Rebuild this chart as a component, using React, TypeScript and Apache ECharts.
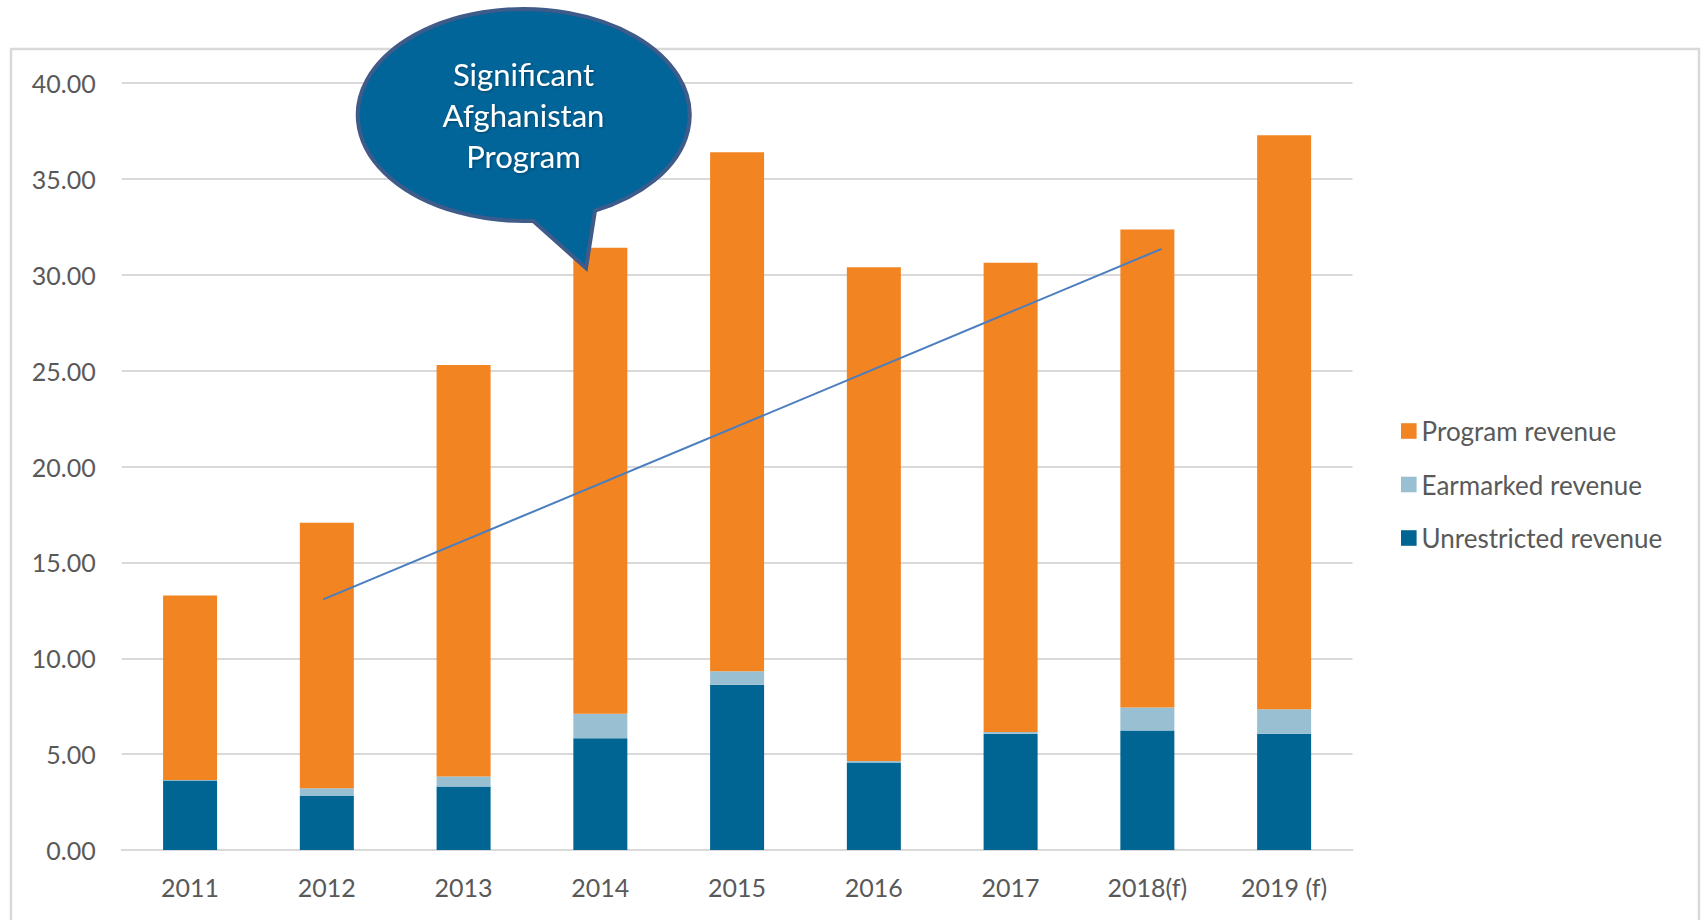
import React, { useEffect, useRef } from "react";
import * as echarts from "echarts";

const categories = ["2011", "2012", "2013", "2014", "2015", "2016", "2017", "2018(f)", "2019 (f)"];
const unrestrictedRevenue = [3.62, 2.82, 3.31, 5.83, 8.62, 4.57, 6.07, 6.24, 6.07];
const earmarkedRevenue = [0.03, 0.4, 0.53, 1.28, 0.7, 0.07, 0.09, 1.19, 1.27];
const programRevenue = [9.63, 13.85, 21.46, 24.31, 27.08, 25.76, 24.47, 24.94, 29.94];
// trend arrow drawn by hand in the source: [position along category axis, value]
const trendLine: [number, number][] = [
  [1.474, 13.07],
  [7.605, 31.36],
];
const calloutLines = ["Significant", "Afghanistan", "Program"];

echarts.graphic.registerShape(
  "speechBubble",
  echarts.graphic.extendPath("M 595 210.7 A 166 106 0 1 0 533 220.8 L 586 268 Z", {})
);

const FONT = "Lato, 'Open Sans', sans-serif";
const LABEL = "#595959";
const GRID = "#D9D9D9";

export default function App() {
  const ref = useRef<HTMLDivElement>(null);
  useEffect(() => {
    if (!ref.current) return;
    const chart = echarts.init(ref.current, null, { renderer: "svg" });
    chart.setOption({
      animation: false,
      backgroundColor: "#ffffff",
      textStyle: { fontFamily: FONT },
      grid: { left: 121.7, right: 353.5, top: 83.2, bottom: 70, containLabel: false },
      legend: {
        orient: "vertical",
        left: 1401,
        top: 418,
        padding: 0,
        itemWidth: 15.6,
        itemHeight: 15.6,
        itemGap: 27.5,
        icon: "rect",
        data: ["Program revenue", "Earmarked revenue", "Unrestricted revenue"],
        textStyle: { color: LABEL, fontSize: 26, fontFamily: FONT, lineHeight: 26 },
      },
      xAxis: [
        {
          type: "category",
          data: categories,
          axisTick: { show: false },
          axisLine: { show: true, lineStyle: { color: GRID, width: 2 } },
          axisLabel: { color: LABEL, fontSize: 25, fontFamily: FONT, margin: 24 },
        },
        { type: "value", min: 0, max: 9, show: false },
      ],
      yAxis: {
        type: "value",
        min: 0,
        max: 40,
        interval: 5,
        axisLine: { show: false },
        axisTick: { show: false },
        splitLine: { lineStyle: { color: GRID, width: 2 } },
        axisLabel: {
          color: LABEL,
          fontSize: 25,
          fontFamily: FONT,
          margin: 26,
          formatter: (v: number) => v.toFixed(2),
        },
      },
      series: [
        {
          name: "Unrestricted revenue",
          type: "bar",
          stack: "rev",
          barWidth: 54,
          itemStyle: { color: "#016593" },
          data: unrestrictedRevenue,
        },
        {
          name: "Earmarked revenue",
          type: "bar",
          stack: "rev",
          barWidth: 54,
          itemStyle: { color: "#98C0D2" },
          data: earmarkedRevenue,
        },
        {
          name: "Program revenue",
          type: "bar",
          stack: "rev",
          barWidth: 54,
          itemStyle: { color: "#F28422" },
          data: programRevenue,
        },
        {
          name: "trend",
          type: "line",
          xAxisIndex: 1,
          symbol: "none",
          lineStyle: { color: "#4A7EBF", width: 2 },
          data: trendLine,
          z: 5,
        },
      ],
      graphic: [
        {
          type: "rect",
          z: 0,
          shape: { x: 11, y: 49, width: 1688, height: 900 },
          style: { fill: "none", stroke: GRID, lineWidth: 2.5 },
          silent: true,
        },
        {
          type: "speechBubble",
          x: 0,
          y: 0,
          z: 100,
          style: { fill: "#02659A", stroke: "#3F5B8A", lineWidth: 4 },
        },
        {
          type: "text",
          x: 523.5,
          y: 115,
          z: 101,
          style: {
            text: calloutLines.join("\n"),
            fill: "#ffffff",
            fontSize: 31,
            fontFamily: FONT,
            align: "center",
            verticalAlign: "middle",
            lineHeight: 41,
            textShadowColor: "rgba(0,0,0,0.35)",
            textShadowBlur: 3,
            textShadowOffsetX: 1,
            textShadowOffsetY: 1,
          },
        },
      ],
    });
    return () => chart.dispose();
  }, []);
  return (
    <div
      ref={ref}
      style={{ position: "fixed", left: 0, top: 0, width: 1706, height: 920, background: "#fff" }}
    />
  );
}
